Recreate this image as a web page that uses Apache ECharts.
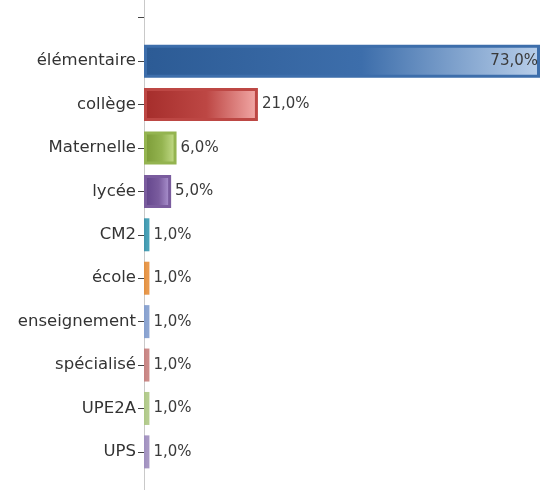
<!DOCTYPE html>
<html>
<head>
<meta charset="utf-8">
<script src="https://cdn.jsdelivr.net/npm/echarts@6/dist/echarts.min.js"></script>
<style>
html,body{margin:0;padding:0;background:#fff;}
#chart{width:543px;height:490px;}
</style>
</head>
<body>
<div id="chart"></div>
<script>
var categories = ['élémentaire', 'collège', 'Maternelle', 'lycée', 'CM2', 'école', 'enseignement', 'spécialisé', 'UPE2A', 'UPS'];
var values = [73, 21, 6, 5, 1, 1, 1, 1, 1, 1];

var baseColors = ['#3d6eab', '#bd4744', '#94b450', '#7a5c9e', '#4aa2b8', '#e99a4e', '#8ea6d2', '#cc8b89', '#b6cd90', '#a898c4'];
var darkColors = ['#2c5b95', '#a52d2b', '#7a9a36', '#61438a', '#3f94aa', '#e08f40', '#86a0cf', '#c58281', '#adc786', '#9f8fbf'];
var lightColors = ['#b9cfea', '#f3aaa8', '#c8e08e', '#b29ad6', '#4aa2b8', '#e99a4e', '#8ea6d2', '#cc8b89', '#b6cd90', '#a898c4'];

function fmt(v) { return v.toFixed(1).replace('.', ',') + '%'; }

var axisData = [''].concat(categories).concat(['']);
var seriesData = ['-'];
values.forEach(function (v, i) {
  var item = {
    value: v,
    itemStyle: {
      color: new echarts.graphic.LinearGradient(0, 0, 1, 0, [
        { offset: 0, color: darkColors[i] },
        { offset: 0.55, color: baseColors[i] },
        { offset: 1, color: lightColors[i] }
      ]),
      borderColor: baseColors[i],
      borderWidth: v > 2 ? 3 : 0
    }
  };
  if (i === 0) {
    item.label = { position: 'insideRight', distance: 2 };
  }
  seriesData.push(item);
});
seriesData.push('-');

var chart = echarts.init(document.getElementById('chart'), null, { renderer: 'canvas' });
chart.setOption({
  animation: false,
  grid: { left: 144, right: 3, top: -4, height: 521, containLabel: false, outerBoundsMode: 'none' },
  xAxis: { type: 'value', min: 0, max: 'dataMax', show: false },
  yAxis: {
    type: 'category',
    inverse: true,
    data: axisData,
    axisLine: { show: true, lineStyle: { color: '#c9c9c9', width: 1 } },
    axisTick: {
      show: true, alignWithLabel: true, length: 6,
      lineStyle: { color: '#444', width: 1 }
    },
    axisLabel: { margin: 8, color: '#333', fontFamily: 'DejaVu Sans', fontSize: 16.5 },
    splitLine: { show: false }
  },
  series: [{
    type: 'bar',
    data: seriesData,
    barWidth: 33,
    label: {
      show: true,
      position: 'right',
      distance: 4,
      color: '#3a3a3a',
      fontFamily: 'DejaVu Sans',
      fontSize: 15,
      formatter: function (p) { return fmt(p.value); }
    }
  }]
});
</script>
</body>
</html>
